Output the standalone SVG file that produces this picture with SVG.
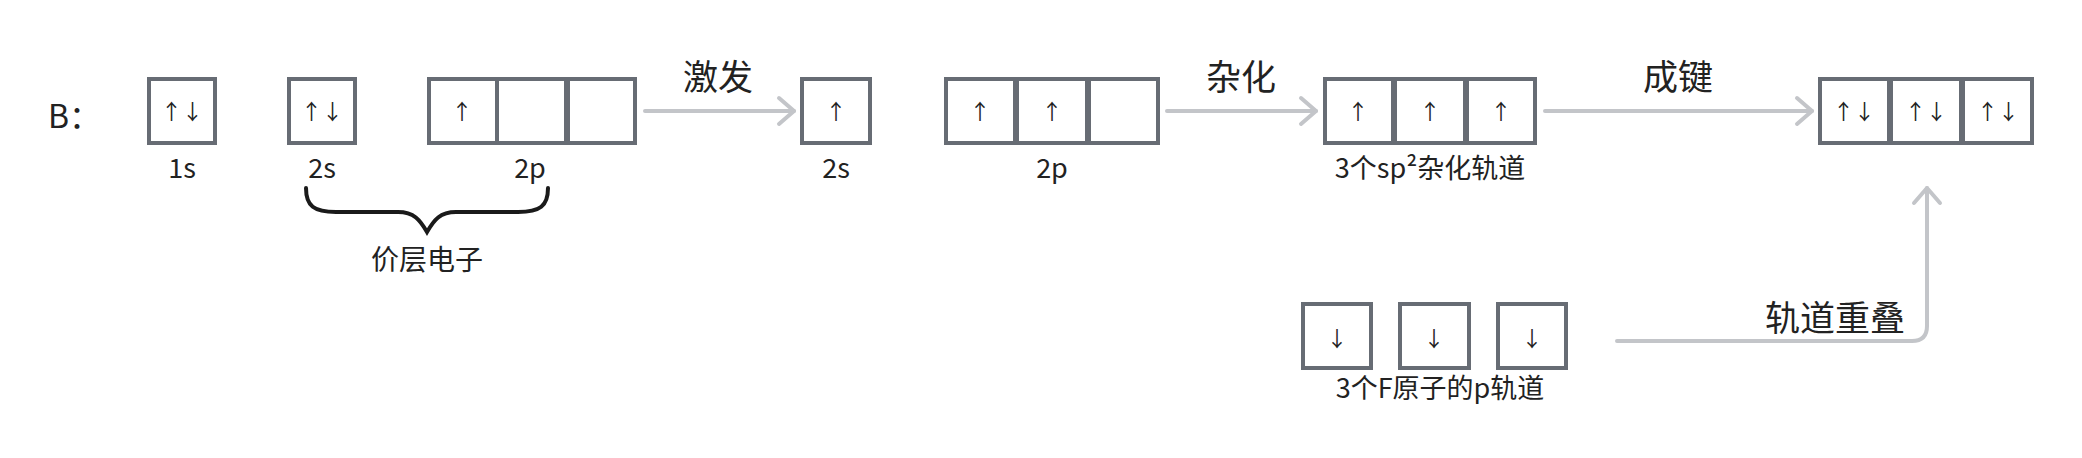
<svg xmlns="http://www.w3.org/2000/svg" width="2082" height="458" viewBox="0 0 2082 458">
<style>
text{font-family:"Noto Sans CJK SC","Noto Sans",sans-serif;fill:#222}
.box{fill:#fff;stroke:#676c74;stroke-width:4}
.div{stroke:#676c74;stroke-width:6}
.e{font-size:21px;text-anchor:middle;fill:#222}
.lbl{font-size:27px;text-anchor:middle}
.big{font-size:35px;text-anchor:middle}
.con{fill:none;stroke:#c3c5c9;stroke-width:4;stroke-linecap:round}
.brace{fill:none;stroke:#1a1a1a;stroke-width:4;stroke-linecap:round}
</style>
<defs>
<marker id="chev" markerUnits="userSpaceOnUse" markerWidth="40" markerHeight="40" viewBox="-20 -20 40 40" refX="0" refY="0" orient="auto">
<path d="M-15,-13 L0,0 L-15,13" fill="none" stroke="#c3c5c9" stroke-width="4" stroke-linecap="round" stroke-linejoin="round"/>
</marker>
</defs>
<text x="48" y="128" style="font-size:32px">B：</text>
<g id="b-1s">
<rect class="box" x="149" y="79" width="66" height="64"/>
<text class="e" x="182" y="119">↑↓</text>
<text class="lbl" x="182" y="178">1s</text>
</g>
<g id="b-2s">
<rect class="box" x="289" y="79" width="66" height="64"/>
<text class="e" x="322" y="119">↑↓</text>
<text class="lbl" x="322" y="178">2s</text>
</g>
<g id="b-2p">
<rect class="box" x="429" y="79" width="206" height="64"/>
<line class="div" x1="497" y1="79" x2="497" y2="143" style="stroke-width:4"/>
<line class="div" x1="567" y1="79" x2="567" y2="143"/>
<text class="e" x="462" y="119">↑</text>
<text class="lbl" x="530" y="178">2p</text>
</g>
<g id="brace-valence">
<path class="brace" d="M306,188 C306,206 314,212 336,212 L398,212 C414,212 420,220 427,232 C434,220 440,212 456,212 L518,212 C540,212 548,206 548,188"/>
<text class="lbl" x="427" y="270" style="font-size:28px">价层电子</text>
</g>
<g id="ex-2s">
<rect class="box" x="802" y="79" width="68" height="64"/>
<text class="e" x="836" y="119">↑</text>
<text class="lbl" x="836" y="178">2s</text>
</g>
<g id="ex-2p">
<rect class="box" x="946" y="79" width="212" height="64"/>
<line class="div" x1="1016" y1="79" x2="1016" y2="143"/>
<line class="div" x1="1088" y1="79" x2="1088" y2="143"/>
<text class="e" x="980" y="119">↑</text>
<text class="e" x="1052" y="119">↑</text>
<text class="lbl" x="1052" y="178">2p</text>
</g>
<g id="sp2">
<rect class="box" x="1325" y="79" width="210" height="64"/>
<line class="div" x1="1394" y1="79" x2="1394" y2="143"/>
<line class="div" x1="1466" y1="79" x2="1466" y2="143"/>
<text class="e" x="1358" y="119">↑</text>
<text class="e" x="1430" y="119">↑</text>
<text class="e" x="1501" y="119">↑</text>
<text class="lbl" x="1430" y="178">3个sp²杂化轨道</text>
</g>
<g id="bonded">
<rect class="box" x="1820" y="79" width="212" height="64"/>
<line class="div" x1="1890" y1="79" x2="1890" y2="143"/>
<line class="div" x1="1962" y1="79" x2="1962" y2="143"/>
<text class="e" x="1854" y="119">↑↓</text>
<text class="e" x="1926" y="119">↑↓</text>
<text class="e" x="1998" y="119">↑↓</text>
</g>
<g id="f-orbitals">
<rect class="box" x="1303" y="304" width="68" height="64"/>
<rect class="box" x="1400" y="304" width="69" height="64"/>
<rect class="box" x="1498" y="304" width="68" height="64"/>
<text class="e" x="1337" y="346">↓</text>
<text class="e" x="1434" y="346">↓</text>
<text class="e" x="1532" y="346">↓</text>
<text class="lbl" x="1440" y="398">3个F原子的p轨道</text>
</g>
<g id="connectors">
<line class="con" x1="645" y1="111" x2="794" y2="111" marker-end="url(#chev)"/>
<line class="con" x1="1167" y1="111" x2="1316" y2="111" marker-end="url(#chev)"/>
<line class="con" x1="1545" y1="111" x2="1812" y2="111" marker-end="url(#chev)"/>
<path class="con" d="M1617,341 H1912 Q1927,341 1927,326 V188" marker-end="url(#chev)"/>
<text class="big" x="718" y="90">激发</text>
<text class="big" x="1241" y="90">杂化</text>
<text class="big" x="1678" y="90">成键</text>
<text class="big" x="1905" y="331" style="text-anchor:end">轨道重叠</text>
</g>
</svg>
